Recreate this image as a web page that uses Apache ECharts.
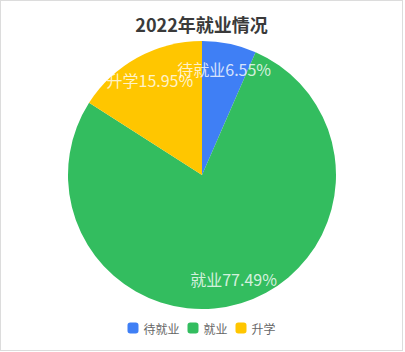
<!DOCTYPE html>
<html>
<head>
<meta charset="utf-8">
<script src="https://cdn.jsdelivr.net/npm/echarts@6/dist/echarts.min.js"></script>
<style>
  html, body { margin: 0; padding: 0; background: #fff; }
  #chart-main {
    width: 403px; height: 351px;
    box-sizing: border-box;
    border: 1px solid #dcdcdc;
  }
</style>
</head>
<body>
<div id="chart-main"></div>
<script>
var names = ['待就业', '就业', '升学'];
var shares = [6.55, 77.49, 15.95];
var colors = ['#3f7ff5', '#33bd5f', '#ffc600'];

(function() {
  var total = shares.reduce(function(a, b) { return a + b; }, 0);

  var pieData = names.map(function(n, i) {
    return { name: n, value: shares[i], itemStyle: { color: colors[i] } };
  });

  // labels sit near the rim: a polar scatter at the middle of each slice
  var acc = 0;
  var labelData = names.map(function(n, i) {
    var mid = acc + shares[i] / 2;
    acc += shares[i];
    return { name: n, value: [0.81, mid], share: shares[i] };
  });

  var center = [201, 174];
  var chart = echarts.init(document.getElementById('chart-main'), null, { renderer: 'svg' });
  chart.setOption({
    animation: false,
    title: {
      text: '2022年就业情况',
      left: 'center',
      top: 9,
      textStyle: { fontSize: 18, fontWeight: 'bold', color: '#3a3a3a', fontFamily: 'Noto Sans CJK SC' }
    },
    legend: {
      data: names,
      bottom: 11,
      left: 'center',
      icon: 'roundRect',
      itemWidth: 11,
      itemHeight: 11,
      itemGap: 8,
      textStyle: { fontSize: 12, color: '#666', fontFamily: 'Noto Sans CJK SC' }
    },
    polar: { center: center, radius: 134 },
    angleAxis: { type: 'value', min: 0, max: total, startAngle: 90, clockwise: true, show: false },
    radiusAxis: { type: 'value', min: 0, max: 1, show: false },
    series: [{
      type: 'pie',
      center: center,
      radius: [0, 134],
      data: pieData,
      label: { show: false },
      labelLine: { show: false }
    }, {
      type: 'scatter',
      coordinateSystem: 'polar',
      silent: true,
      symbolSize: 1,
      itemStyle: { color: 'rgba(0,0,0,0)' },
      data: labelData,
      z: 10,
      label: {
        show: true,
        position: 'inside',
        formatter: function(p) { return p.name + p.data.share + '%'; },
        color: '#fff',
        fontSize: 16,
        fontFamily: 'Noto Sans CJK SC'
      }
    }]
  });
  window.addEventListener('resize', function() { chart.resize(); });
})();
</script>
</body>
</html>
